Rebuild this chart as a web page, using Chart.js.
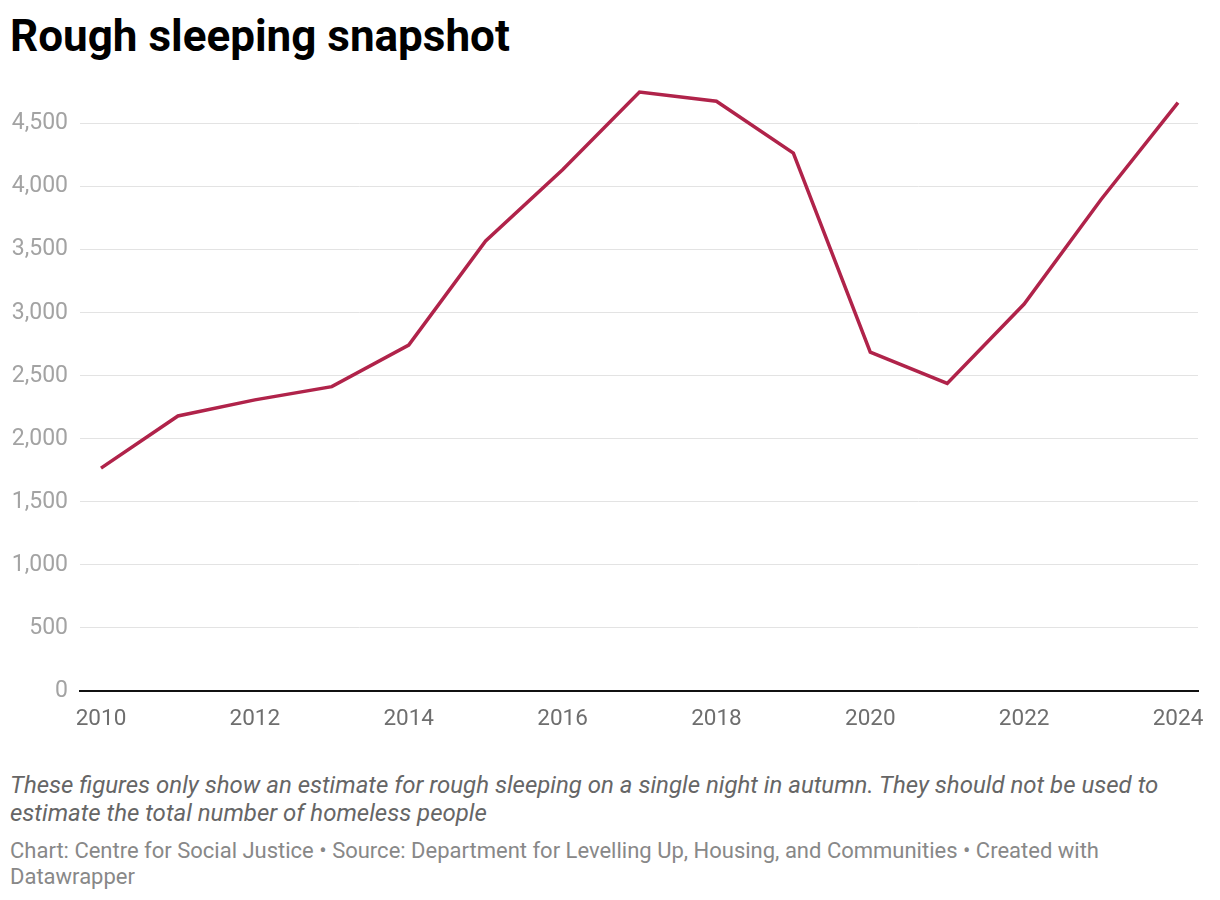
<!DOCTYPE html>
<html>
<head>
<meta charset="utf-8">
<script src="https://cdn.jsdelivr.net/npm/chart.js@4"></script>
<style>
  body { margin: 0; background: #fff; font-family: Roboto, sans-serif; }
  #wrap { position: relative; width: 1220px; height: 900px; }
  h1 { position: absolute; left: 10px; top: 9px; margin: 0; font-size: 44px; font-weight: 700; color: #000; line-height: 54px; }
  #box { position: absolute; left: 0; top: 60px; width: 1220px; height: 681px; }
  #note { position: absolute; left: 10px; top: 771px; width: 1190px; margin: 0; font-size: 24px; font-style: italic; color: #666; line-height: 28px; }
  #source { position: absolute; left: 10px; top: 838px; width: 1190px; margin: 0; font-size: 22px; color: #888; line-height: 26px; }
</style>
</head>
<body>
<div id="wrap">
  <h1>Rough sleeping snapshot</h1>
  <div id="box"><canvas id="grafico"></canvas></div>
  <p id="note">These figures only show an estimate for rough sleeping on a single night in autumn. They should not be used to estimate the total number of homeless people</p>
  <p id="source">Chart: Centre for Social Justice • Source: Department for Levelling Up, Housing, and Communities • Created with Datawrapper</p>
</div>
<script>
const anos = [2010, 2011, 2012, 2013, 2014, 2015, 2016, 2017, 2018, 2019, 2020, 2021, 2022, 2023, 2024];
const pessoas = [1768, 2181, 2309, 2414, 2744, 3569, 4134, 4751, 4677, 4266, 2688, 2440, 3069, 3898, 4667];
const ticksX = [2010, 2012, 2014, 2016, 2018, 2020, 2022, 2024];
const ticksY = [0, 500, 1000, 1500, 2000, 2500, 3000, 3500, 4000, 4500];

const ctx = document.getElementById("grafico").getContext("2d");

new Chart(ctx, {
    type: "line",
    data: {
        datasets: [
            {
                label: "Rough sleeping",
                data: anos.map((a, i) => ({ x: a, y: pessoas[i] })),
                borderColor: "#b0234a",
                borderWidth: 3.5,
                pointRadius: 0,
                tension: 0,
                fill: false,
            },
        ],
    },
    options: {
        responsive: true,
        maintainAspectRatio: false,
        animation: false,
        layout: { padding: { top: 10, right: 22, left: 0, bottom: 0 } },
        plugins: {
            legend: { display: false },
            tooltip: { enabled: false },
        },
        scales: {
            x: {
                type: "linear",
                min: 2009.727,
                max: 2024.26,
                afterBuildTicks: (axis) => {
                    axis.ticks = ticksX.map((v) => ({ value: v }));
                },
                afterFit: (axis) => {
                    axis.height = 50;
                },
                grid: { display: false, drawTicks: false },
                border: { display: true, color: "#111", width: 2 },
                ticks: {
                    padding: 15,
                    color: "#6e6e6e",
                    font: { family: "Roboto", size: 22.5 },
                    maxRotation: 0,
                    callback: (v) => String(v),
                },
            },
            y: {
                min: 0,
                max: 4800,
                afterBuildTicks: (axis) => {
                    axis.ticks = ticksY.map((v) => ({ value: v }));
                },
                afterFit: (axis) => {
                    axis.width = 80;
                },
                grid: {
                    color: (c) => (c.tick && c.tick.value === 0 ? "rgba(0,0,0,0)" : "#e3e3e3"),
                    lineWidth: 1,
                    drawTicks: false,
                },
                border: { display: false },
                ticks: {
                    padding: 12,
                    color: "#a3a3a3",
                    font: { family: "Roboto", size: 23 },
                    callback: (v) => v.toLocaleString("en-US"),
                },
            },
        },
    },
});
</script>
</body>
</html>
